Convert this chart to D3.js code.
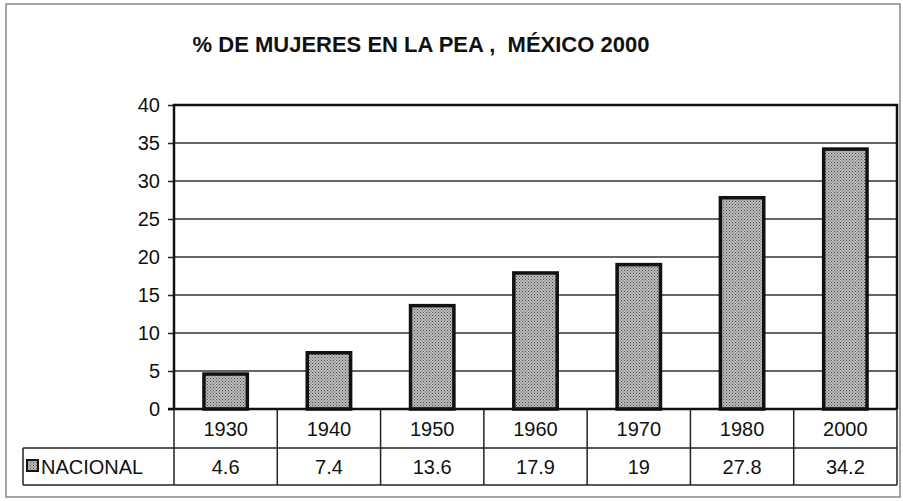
<!DOCTYPE html>
<html>
<head>
<meta charset="utf-8">
<script src="https://cdn.jsdelivr.net/npm/d3@7"></script>
<style>
    body { margin: 0; background: #fff; }
    text { font-family: "Liberation Sans", Arial, sans-serif; fill: #111; }
</style>
</head>
<body>
<svg id="chart" width="903" height="501"></svg>
<script>
// datos
var years = ["1930", "1940", "1950", "1960", "1970", "1980", "2000"];
var nacional = [4.6, 7.4, 13.6, 17.9, 19, 27.8, 34.2];
var yTicks = [0, 5, 10, 15, 20, 25, 30, 35, 40];
var serieName = "NACIONAL";
var title = "% DE MUJERES EN LA PEA ,  MÉXICO 2000";

var svg = d3.select("#chart");
var plotLeft = 174, plotRight = 897, plotTop = 105, plotBottom = 409;
var row1 = 448, row2 = 485, tableLeft = 23;

var x = d3.scaleBand().domain(years).range([plotLeft, plotRight]).paddingInner(0.58).paddingOuter(0.29);
var y = d3.scaleLinear().domain([0, 40]).range([plotBottom, plotTop]);
var band = (plotRight - plotLeft) / years.length;

// patron de puntos
var pat = svg.append("defs").append("pattern")
    .attr("id", "dots")
    .attr("width", 3).attr("height", 3)
    .attr("patternUnits", "userSpaceOnUse");
pat.append("rect").attr("width", 3).attr("height", 3).attr("fill", "#bdbdbd");
pat.append("rect").attr("width", 1).attr("height", 1).attr("fill", "#4a4a4a");
pat.append("rect").attr("x", 1.5).attr("y", 1.5).attr("width", 1).attr("height", 1).attr("fill", "#5a5a5a");

// marco exterior
svg.append("rect")
    .attr("x", 6).attr("y", 4).attr("width", 894).attr("height", 493)
    .attr("fill", "none").attr("stroke", "#888").attr("stroke-width", 1.5);

svg.append("text")
    .attr("x", 421).attr("y", 52)
    .attr("text-anchor", "middle")
    .attr("font-size", 22).attr("font-weight", "bold")
    .style("white-space", "pre")
    .text(title);

// lineas de division
svg.append("g").selectAll("line")
    .data(yTicks.filter(function (d) { return d > 0 && d < 40; }))
    .enter().append("line")
    .attr("x1", plotLeft).attr("x2", plotRight)
    .attr("y1", function (d) { return y(d); })
    .attr("y2", function (d) { return y(d); })
    .attr("stroke", "#333").attr("stroke-width", 1.5);

// eje y
var yAxis = d3.axisLeft(y).tickValues(yTicks).tickSize(6).tickPadding(8);
var gy = svg.append("g").attr("transform", "translate(" + plotLeft + ",0)").call(yAxis);
gy.select(".domain").remove();
gy.selectAll("line").attr("stroke", "#222").attr("stroke-width", 1.5);
gy.selectAll("text").attr("font-size", 20).attr("font-family", "Liberation Sans, Arial, sans-serif").attr("fill", "#111");

// barras
svg.append("g").selectAll("rect")
    .data(nacional)
    .enter().append("rect")
    .attr("x", function (d, i) { return x(years[i]); })
    .attr("y", function (d) { return y(d); })
    .attr("width", x.bandwidth())
    .attr("height", function (d) { return y(0) - y(d); })
    .attr("fill", "url(#dots)")
    .attr("stroke", "#111").attr("stroke-width", 3.5);

// borde del area
svg.append("path")
    .attr("d", "M" + plotLeft + "," + plotBottom + "V" + plotTop + "H" + plotRight + "V" + plotBottom)
    .attr("fill", "none").attr("stroke", "#111").attr("stroke-width", 2.5);
svg.append("line")
    .attr("x1", plotLeft - 6).attr("x2", plotRight)
    .attr("y1", plotBottom).attr("y2", plotBottom)
    .attr("stroke", "#111").attr("stroke-width", 2.5);

// tabla de datos
var tbl = svg.append("g").attr("stroke", "#222").attr("stroke-width", 1.5);
tbl.append("line").attr("x1", tableLeft).attr("x2", plotRight).attr("y1", row1).attr("y2", row1);
tbl.append("line").attr("x1", tableLeft).attr("x2", plotRight).attr("y1", row2).attr("y2", row2);
tbl.append("line").attr("x1", tableLeft).attr("x2", tableLeft).attr("y1", row1).attr("y2", row2);
tbl.selectAll(".v")
    .data(d3.range(years.length + 1))
    .enter().append("line")
    .attr("x1", function (i) { return plotLeft + band * i; })
    .attr("x2", function (i) { return plotLeft + band * i; })
    .attr("y1", plotBottom).attr("y2", row2);

svg.append("g").selectAll("text")
    .data(years)
    .enter().append("text")
    .attr("x", function (d) { return x(d) + x.bandwidth() / 2; })
    .attr("y", 436)
    .attr("text-anchor", "middle").attr("font-size", 20)
    .text(function (d) { return d; });

svg.append("g").selectAll("text")
    .data(nacional)
    .enter().append("text")
    .attr("x", function (d, i) { return x(years[i]) + x.bandwidth() / 2; })
    .attr("y", 474)
    .attr("text-anchor", "middle").attr("font-size", 20)
    .text(function (d) { return d; });

// leyenda
svg.append("rect")
    .attr("x", 27).attr("y", 460).attr("width", 11).attr("height", 11)
    .attr("fill", "url(#dots)").attr("stroke", "#111").attr("stroke-width", 2);
svg.append("text")
    .attr("x", 41).attr("y", 474).attr("font-size", 20)
    .text(serieName);
</script>
</body>
</html>
